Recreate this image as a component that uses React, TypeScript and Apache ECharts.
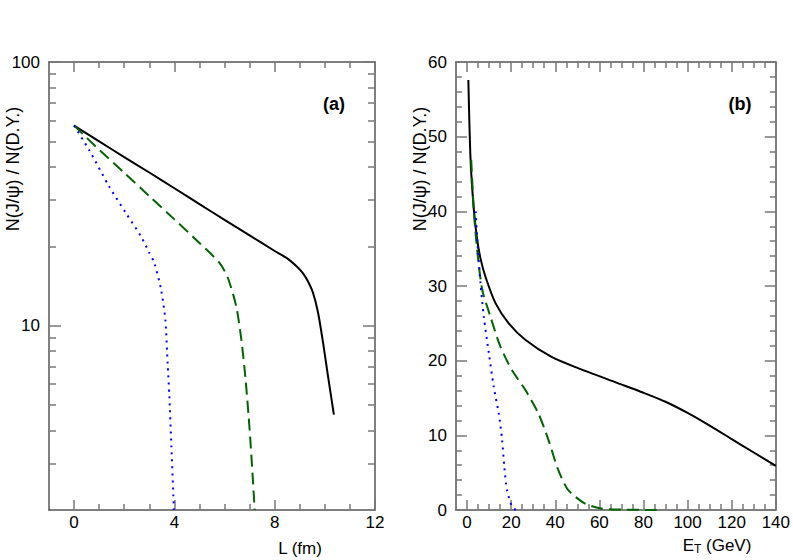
import React, { useEffect, useRef } from "react";
import * as echarts from "echarts";

// ---------- data ----------
// Panel (a): x = L (fm), y = N(J/psi)/N(D.Y.) on log scale
const solidA: number[][] = [
  [0, 57.4], [1, 50.0], [2, 43.6], [3, 38.1], [4, 33.2], [5, 28.9], [6, 25.2], [7, 22.0],
  [8, 19.2], [8.5, 18.0], [8.87, 16.8], [9.13, 15.8], [9.33, 14.7], [9.53, 13.3], [9.73, 11.2],
  [9.93, 8.6], [10.13, 6.4], [10.36, 4.6],
];
const dashedA: number[][] = [
  [0, 57.4], [1, 46.5], [2, 38.0], [3, 31.0], [4, 25.3], [5, 20.6], [5.8, 17.3], [6.13, 15.2],
  [6.47, 11.8], [6.67, 8.85], [6.84, 6.24], [7.0, 4.04], [7.13, 2.61], [7.2, 2.0],
];
const dottedA: number[][] = [
  [0, 57.4], [0.6, 46.4], [1.4, 33.7], [2.07, 26.7], [2.67, 21.8], [3.0, 18.9], [3.2, 17.3],
  [3.47, 13.7], [3.64, 10.5], [3.73, 7.2], [3.8, 5.4], [3.88, 3.49], [3.96, 2.26], [3.98, 2.0],
];
// Panel (b): x = E_T (GeV), y linear
const solidB: number[][] = [
  [0.6, 57.6], [1.6, 46.9], [3.1, 40.2], [4.6, 36.2], [6.1, 33.7], [8.4, 31.2], [12.9, 27.7],
  [18.9, 25.0], [26.4, 22.8], [38.3, 20.5], [50.3, 19.0], [68.3, 17.0], [80, 15.7], [90, 14.5],
  [100, 13.0], [110, 11.3], [120, 9.5], [130, 7.7], [140, 5.9],
];
const dashedB: number[][] = [
  [1.9, 46.9], [3.1, 40.0], [4.6, 34.8], [6.9, 29.5], [10.6, 25.9], [15.1, 21.9], [20.4, 18.7],
  [26.4, 16.1], [32.4, 12.9], [36.9, 9.4], [41.3, 5.4], [45.8, 2.7], [53.3, 0.9], [60.8, 0.2],
  [70, 0.05], [86, 0],
];
const dottedB: number[][] = [
  [3.9, 40.0], [4.9, 35.0], [6.1, 30.4], [7.6, 25.9], [9.9, 21.0], [12.1, 16.5], [14.4, 12.9],
  [15.9, 9.4], [16.9, 5.8], [18.1, 2.7], [20.4, 0.45], [22.2, 0],
];

// ticks
const xMajorA = [0, 4, 8, 12];
const xMinorA = [1, 2, 3, 5, 6, 7, 9, 10, 11];
const yMajorA = [10, 100];
const yMinorA = [3, 4, 5, 6, 7, 8, 9, 20, 30, 40, 50, 60, 70, 80, 90];
const xMajorB = [0, 20, 40, 60, 80, 100, 120, 140];
const xMinorB = [5, 10, 15, 25, 30, 35, 45, 50, 55, 65, 70, 75, 85, 90, 95, 105, 110, 115, 125, 130, 135];
const yMajorB = [0, 10, 20, 30, 40, 50, 60];
const yMinorB = [2, 4, 6, 8, 12, 14, 16, 18, 22, 24, 26, 28, 32, 34, 36, 38, 42, 44, 46, 48, 52, 54, 56, 58];

const FONT = "'Liberation Sans', Arial, Helvetica, sans-serif";
const AXIS_COLOR = "#555";
const TICK_COLOR = "#777";
const LABEL_SIZE = 17;

function axis(
  dim: "x" | "y",
  gridIndex: number,
  position: string,
  type: string,
  min: number,
  max: number,
  ticks: number[],
  tickLen: number,
  labels: number[] | null,
  showLine: boolean
): any {
  const a: any = {
    type,
    gridIndex,
    position,
    min,
    max,
    axisLine: { show: showLine, onZero: false, lineStyle: { color: AXIS_COLOR, width: 1.5 } },
    axisTick: {
      show: true,
      inside: true,
      length: tickLen,
      customValues: ticks,
      lineStyle: { color: TICK_COLOR, width: 1.5 },
    },
    axisLabel: labels
      ? {
          show: true,
          customValues: labels,
          fontSize: LABEL_SIZE,
          color: "#000",
          margin: dim === "x" ? 4 : 9,
          fontFamily: FONT,
        }
      : { show: false },
    splitLine: { show: false },
    minorTick: { show: false },
    minorSplitLine: { show: false },
  };
  if (type === "log") a.logBase = 10;
  return a;
}

function lineSeries(data: number[][], xi: number, yi: number, color: string, type: any, width: number): any {
  return {
    type: "line",
    data,
    xAxisIndex: xi,
    yAxisIndex: yi,
    showSymbol: false,
    symbol: "none",
    smooth: 0.25,
    clip: true,
    lineStyle: { color, width, type },
    z: 3,
  };
}

const centerText = { align: "center", verticalAlign: "middle", textAlign: "center", textVerticalAlign: "middle" };

export default function App() {
  const ref = useRef<HTMLDivElement>(null);
  useEffect(() => {
    if (!ref.current) return;
    const chart = echarts.init(ref.current, undefined, { renderer: "svg" });
    const option: any = {
      animation: false,
      backgroundColor: "#fff",
      grid: [
        { left: 49, top: 62, width: 326, height: 448 },
        { left: 456, top: 62, width: 323, height: 448 },
      ],
      xAxis: [
        axis("x", 0, "bottom", "value", -1, 12, xMajorA, 10, xMajorA, true),
        axis("x", 0, "bottom", "value", -1, 12, xMinorA, 6, null, false),
        axis("x", 0, "top", "value", -1, 12, xMajorA, 10, null, true),
        axis("x", 0, "top", "value", -1, 12, xMinorA, 6, null, false),
        axis("x", 1, "bottom", "value", -5, 140, xMajorB, 10, xMajorB, true),
        axis("x", 1, "bottom", "value", -5, 140, xMinorB, 6, null, false),
        axis("x", 1, "top", "value", -5, 140, xMajorB, 10, null, true),
        axis("x", 1, "top", "value", -5, 140, xMinorB, 6, null, false),
      ],
      yAxis: [
        axis("y", 0, "left", "log", 2, 100, yMajorA, 12, yMajorA, true),
        axis("y", 0, "left", "log", 2, 100, yMinorA, 7, null, false),
        axis("y", 0, "right", "log", 2, 100, yMajorA, 12, null, true),
        axis("y", 0, "right", "log", 2, 100, yMinorA, 7, null, false),
        axis("y", 1, "left", "value", 0, 60, yMajorB, 11, yMajorB, true),
        axis("y", 1, "left", "value", 0, 60, yMinorB, 6, null, false),
        axis("y", 1, "right", "value", 0, 60, yMajorB, 11, null, true),
        axis("y", 1, "right", "value", 0, 60, yMinorB, 6, null, false),
      ],
      series: [
        lineSeries(solidA, 0, 0, "#000000", "solid", 2),
        lineSeries(dashedA, 0, 0, "#006400", [12, 6], 2),
        lineSeries(dottedA, 0, 0, "#0000ff", [2, 5], 2),
        lineSeries(solidB, 4, 4, "#000000", "solid", 2),
        lineSeries(dashedB, 4, 4, "#006400", [12, 6], 2),
        lineSeries(dottedB, 4, 4, "#0000ff", [2, 5], 2),
      ],
      graphic: [
        {
          type: "text", x: 334, y: 104,
          style: { text: "(a)", fontSize: 18, fontWeight: "bold", fontFamily: FONT, fill: "#000", ...centerText },
        },
        {
          type: "text", x: 740, y: 104,
          style: { text: "(b)", fontSize: 18, fontWeight: "bold", fontFamily: FONT, fill: "#000", ...centerText },
        },
        {
          type: "text", x: 300, y: 548,
          style: { text: "L (fm)", fontSize: LABEL_SIZE, fontFamily: FONT, fill: "#000", ...centerText },
        },
        {
          type: "text", x: 717, y: 545,
          style: {
            text: "E{sub|T} (GeV)", fontSize: LABEL_SIZE, fontFamily: FONT, fill: "#000", ...centerText,
            rich: { sub: { fontSize: 12, fontFamily: FONT, fill: "#000", padding: [8, 0, 0, 0] } },
          },
        },
        {
          type: "text", x: 13, y: 169, rotation: Math.PI / 2,
          style: { text: "N(J/\u03c8) / N(D.Y.)", fontSize: 18, fontFamily: FONT, fill: "#000", ...centerText },
        },
        {
          type: "text", x: 420, y: 169, rotation: Math.PI / 2,
          style: { text: "N(J/\u03c8) / N(D.Y.)", fontSize: 18, fontFamily: FONT, fill: "#000", ...centerText },
        },
      ],
    };
    chart.setOption(option);
    return () => chart.dispose();
  }, []);
  return (
    <div
      ref={ref}
      style={{ position: "absolute", left: 0, top: 0, width: 793, height: 560, background: "#fff" }}
    />
  );
}
